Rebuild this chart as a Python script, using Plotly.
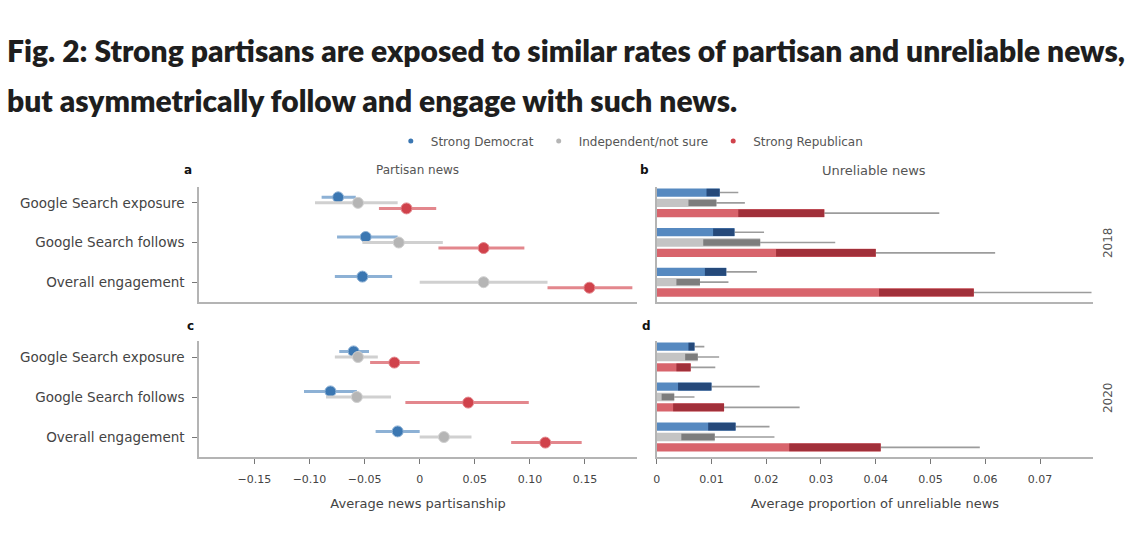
import plotly.graph_objects as go

W, H = 1140, 537

categories = ["Google Search exposure", "Google Search follows", "Overall engagement"]
groups = ["Strong Democrat", "Independent/not sure", "Strong Republican"]

# Panel a: partisan news 2018 (mean, lower, upper)
dem_part_2018 = [-0.074, -0.049, -0.052]
dem_part_2018_lo = [-0.089, -0.075, -0.077]
dem_part_2018_hi = [-0.058, -0.020, -0.025]
ind_part_2018 = [-0.056, -0.019, 0.058]
ind_part_2018_lo = [-0.095, -0.052, 0.000]
ind_part_2018_hi = [-0.020, 0.021, 0.116]
rep_part_2018 = [-0.012, 0.058, 0.154]
rep_part_2018_lo = [-0.037, 0.017, 0.116]
rep_part_2018_hi = [0.015, 0.095, 0.193]

# Panel c: partisan news 2020
dem_part_2020 = [-0.060, -0.081, -0.020]
dem_part_2020_lo = [-0.073, -0.105, -0.040]
dem_part_2020_hi = [-0.046, -0.057, 0.000]
ind_part_2020 = [-0.056, -0.057, 0.022]
ind_part_2020_lo = [-0.077, -0.085, 0.000]
ind_part_2020_hi = [-0.038, -0.026, 0.047]
rep_part_2020 = [-0.023, 0.044, 0.114]
rep_part_2020_lo = [-0.045, -0.013, 0.083]
rep_part_2020_hi = [0.000, 0.099, 0.147]

# Panel b: unreliable news 2018
dem_unrel_2018 = [0.0115, 0.0142, 0.0127]
dem_unrel_2018_lo = [0.0091, 0.0103, 0.0088]
dem_unrel_2018_hi = [0.0149, 0.0196, 0.0183]
ind_unrel_2018 = [0.0109, 0.0189, 0.0079]
ind_unrel_2018_lo = [0.0058, 0.0085, 0.0036]
ind_unrel_2018_hi = [0.0161, 0.0326, 0.0131]
rep_unrel_2018 = [0.0306, 0.0400, 0.0579]
rep_unrel_2018_lo = [0.0149, 0.0218, 0.0406]
rep_unrel_2018_hi = [0.0516, 0.0618, 0.0794]

# Panel d: unreliable news 2020
dem_unrel_2020 = [0.0069, 0.0100, 0.0144]
dem_unrel_2020_lo = [0.0058, 0.0039, 0.0094]
dem_unrel_2020_hi = [0.0087, 0.0188, 0.0206]
ind_unrel_2020 = [0.0075, 0.0032, 0.0106]
ind_unrel_2020_lo = [0.0052, 0.0009, 0.0045]
ind_unrel_2020_hi = [0.0114, 0.0069, 0.0215]
rep_unrel_2020 = [0.0062, 0.0123, 0.0409]
rep_unrel_2020_lo = [0.0036, 0.0030, 0.0242]
rep_unrel_2020_hi = [0.0107, 0.0261, 0.0590]

part_ticks = [-0.15, -0.10, -0.05, 0, 0.05, 0.10, 0.15]
part_ticktext = ["\u22120.15", "\u22120.10", "\u22120.05", "0", "0.05", "0.10", "0.15"]
unrel_ticks = [0, 0.01, 0.02, 0.03, 0.04, 0.05, 0.06, 0.07]
unrel_ticktext = ["0", "0.01", "0.02", "0.03", "0.04", "0.05", "0.06", "0.07"]

dot_colors = ["#3b77b2", "#b5b5b5", "#d0424b"]
err_colors = ["#8db1d5", "#d0d0d0", "#e3878d"]
bar_colors = ["#5689c0", "#c4c4c4", "#d8646c"]
dark_colors = ["#25497a", "#7d7d7d", "#a1303a"]
offsets = [-0.14, 0.0, 0.14]
bar_offsets = [-0.26, 0.0, 0.26]

FONT = "DejaVu Sans"
TXT = "#444444"
AX = "#b4b4b4"

fig = go.Figure()

def px_x(p):
    return p / W

def px_y(p):
    return 1 - p / H

part_sets = {
    "2018": [(dem_part_2018, dem_part_2018_lo, dem_part_2018_hi),
             (ind_part_2018, ind_part_2018_lo, ind_part_2018_hi),
             (rep_part_2018, rep_part_2018_lo, rep_part_2018_hi)],
    "2020": [(dem_part_2020, dem_part_2020_lo, dem_part_2020_hi),
             (ind_part_2020, ind_part_2020_lo, ind_part_2020_hi),
             (rep_part_2020, rep_part_2020_lo, rep_part_2020_hi)],
}
unrel_sets = {
    "2018": [(dem_unrel_2018, dem_unrel_2018_lo, dem_unrel_2018_hi),
             (ind_unrel_2018, ind_unrel_2018_lo, ind_unrel_2018_hi),
             (rep_unrel_2018, rep_unrel_2018_lo, rep_unrel_2018_hi)],
    "2020": [(dem_unrel_2020, dem_unrel_2020_lo, dem_unrel_2020_hi),
             (ind_unrel_2020, ind_unrel_2020_lo, ind_unrel_2020_hi),
             (rep_unrel_2020, rep_unrel_2020_lo, rep_unrel_2020_hi)],
}

axes_map = {"2018": (("x", "y"), ("x2", "y2")), "2020": (("x3", "y3"), ("x4", "y4"))}

for year in ["2018", "2020"]:
    (xa, ya), (xb, yb) = axes_map[year]
    for gi, (m, lo, hi) in enumerate(part_sets[year]):
        ys = [i + offsets[gi] for i in range(len(categories))]
        fig.add_trace(go.Scatter(
            x=m, y=ys, mode="markers", xaxis=xa, yaxis=ya, showlegend=False,
            marker=dict(size=11, color=dot_colors[gi], line=dict(width=1, color=err_colors[gi])),
            error_x=dict(type="data", symmetric=False,
                         array=[h - v for h, v in zip(hi, m)],
                         arrayminus=[v - l for v, l in zip(m, lo)],
                         color=err_colors[gi], thickness=3, width=0),
        ))
    for gi, (m, lo, hi) in enumerate(unrel_sets[year]):
        ys = [i + bar_offsets[gi] for i in range(len(categories))]
        fig.add_trace(go.Bar(
            x=m, y=ys, orientation="h", xaxis=xb, yaxis=yb, showlegend=False,
            width=0.21, marker=dict(color=bar_colors[gi], line=dict(width=0)),
            error_x=dict(type="data", symmetric=False,
                         array=[h - v for h, v in zip(hi, m)],
                         arrayminus=[0] * len(m),
                         color="#9c9c9c", thickness=1.6, width=0),
        ))
        fig.add_trace(go.Bar(
            x=[v - l for v, l in zip(m, lo)], base=lo, y=ys, orientation="h",
            xaxis=xb, yaxis=yb, showlegend=False,
            width=0.16 if gi == 1 else 0.19,
            marker=dict(color=dark_colors[gi], line=dict(width=0)),
        ))

for gi, g in enumerate(groups):
    fig.add_trace(go.Scatter(
        x=[None], y=[None], mode="markers", name=g, xaxis="x", yaxis="y",
        marker=dict(size=5, color=dot_colors[gi]),
    ))

left_dom = [px_x(196), px_x(635)]
right_dom = [px_x(655), px_x(1093)]
top_dom = [px_y(302), px_y(187)]
bot_dom = [px_y(457), px_y(341)]
yrange = [2.5, -0.4]

common_x = dict(showgrid=False, zeroline=False, showline=True, linecolor=AX, linewidth=2,
                tickfont=dict(family=FONT, size=11, color=TXT))
common_y = dict(showgrid=False, zeroline=False, showline=True, linecolor=AX, linewidth=2,
                range=yrange, tickvals=[0, 1, 2])

fig.update_layout(
    width=W, height=H, margin=dict(l=0, r=0, t=0, b=0),
    paper_bgcolor="white", plot_bgcolor="white", barmode="overlay",
    font=dict(family=FONT, color=TXT),
    legend=dict(orientation="h", x=px_x(628), y=px_y(141), xanchor="center", yanchor="middle",
                font=dict(family=FONT, size=12, color="#555555"), itemwidth=30,
                bgcolor="rgba(0,0,0,0)"),
    xaxis=dict(domain=left_dom, anchor="y", range=[-0.2, 0.197], showticklabels=False,
               ticks="", tickvals=part_ticks, **common_x),
    yaxis=dict(domain=top_dom, anchor="x", ticktext=categories, ticks="outside", ticklen=5,
               ticklabelstandoff=5,
               tickcolor="#777777", tickfont=dict(family=FONT, size=13.5, color=TXT), **common_y),
    xaxis2=dict(domain=right_dom, anchor="y2", range=[0, 0.0797], showticklabels=False,
                ticks="", tickvals=unrel_ticks, **common_x),
    yaxis2=dict(domain=top_dom, anchor="x2", showticklabels=False, ticks="", **common_y),
    xaxis3=dict(domain=left_dom, anchor="y3", range=[-0.2, 0.197], tickvals=part_ticks,
                ticktext=part_ticktext, ticks="outside", ticklen=5, tickcolor="#777777",
                ticklabelstandoff=6,
                title=dict(text="Average news partisanship", standoff=14,
                           font=dict(family=FONT, size=13, color=TXT)), **common_x),
    yaxis3=dict(domain=bot_dom, anchor="x3", ticktext=categories, ticks="outside", ticklen=5,
                ticklabelstandoff=5,
                tickcolor="#777777", tickfont=dict(family=FONT, size=13.5, color=TXT), **common_y),
    xaxis4=dict(domain=right_dom, anchor="y4", range=[0, 0.0797], tickvals=unrel_ticks,
                ticktext=unrel_ticktext, ticks="outside", ticklen=5, tickcolor="#777777",
                ticklabelstandoff=6,
                title=dict(text="Average proportion of unreliable news", standoff=14,
                           font=dict(family=FONT, size=13, color=TXT)), **common_x),
    yaxis4=dict(domain=bot_dom, anchor="x4", showticklabels=False, ticks="", **common_y),
)

title_font = dict(family="Lato", size=30, color="#1e1e1e", weight=800)
anns = [
    dict(text="Fig. 2: Strong partisans are exposed to similar rates of partisan and unreliable news,",
         x=px_x(1), y=px_y(50), xanchor="left", yanchor="middle", font=title_font),
    dict(text="but asymmetrically follow and engage with such news.",
         x=px_x(1), y=px_y(100), xanchor="left", yanchor="middle", font=title_font),
    dict(text="<b>a</b>", x=px_x(185), y=px_y(170), xanchor="center", yanchor="middle",
         font=dict(family=FONT, size=12, color="#111111")),
    dict(text="<b>b</b>", x=px_x(643), y=px_y(170), xanchor="center", yanchor="middle",
         font=dict(family=FONT, size=12, color="#111111")),
    dict(text="<b>c</b>", x=px_x(187), y=px_y(326), xanchor="center", yanchor="middle",
         font=dict(family=FONT, size=12, color="#111111")),
    dict(text="<b>d</b>", x=px_x(645), y=px_y(326), xanchor="center", yanchor="middle",
         font=dict(family=FONT, size=12, color="#111111")),
    dict(text="Partisan news", x=px_x(415), y=px_y(170), xanchor="center", yanchor="middle",
         font=dict(family=FONT, size=12, color="#555555")),
    dict(text="Unreliable news", x=px_x(873), y=px_y(170), xanchor="center", yanchor="middle",
         font=dict(family=FONT, size=13, color="#555555")),
    dict(text="2018", x=px_x(1108), y=px_y(243), xanchor="center", yanchor="middle", textangle=-90,
         font=dict(family=FONT, size=12, color="#555555")),
    dict(text="2020", x=px_x(1108), y=px_y(398), xanchor="center", yanchor="middle", textangle=-90,
         font=dict(family=FONT, size=12, color="#555555")),
]
for a in anns:
    a.update(xref="paper", yref="paper", showarrow=False)
fig.update_layout(annotations=anns)

fig.write_html("out.html", config={"displayModeBar": False},
               post_script="document.body.style.margin='0';document.body.style.overflow='hidden';")
